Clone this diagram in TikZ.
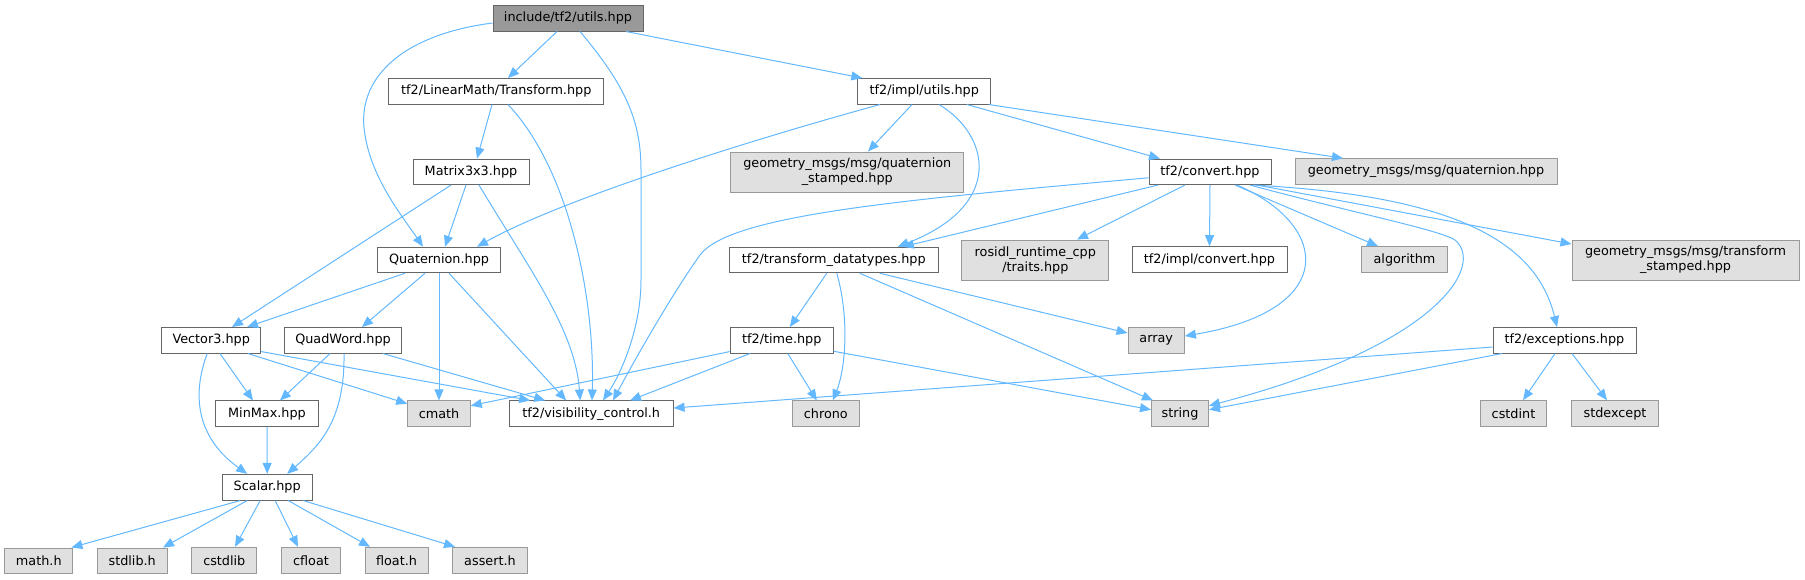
\documentclass[tikz,border=0pt]{standalone}
\usepackage{fontspec}
\setmainfont{DejaVu Sans}
\usetikzlibrary{arrows.meta}
\definecolor{edgec}{HTML}{63B8FF}
\definecolor{grayfill}{HTML}{E0E0E0}
\definecolor{grayborder}{HTML}{999999}
\definecolor{darkborder}{HTML}{666666}
\definecolor{rootfill}{HTML}{999999}
\begin{document}
\begin{tikzpicture}[x=1pt,y=-1pt,
  basebox/.style={line width=1pt, inner sep=0pt, minimum height=25.5pt, align=center,
     font=\fontsize{12.8}{15}\selectfont},
  wbox/.style={basebox, draw=darkborder, fill=white},
  gbox/.style={basebox, draw=grayborder, fill=grayfill},
  rbox/.style={basebox, draw=darkborder, fill=rootfill},
  edge/.style={draw=edgec, line width=1pt, -{Triangle[length=11pt,width=9pt]}}]
\useasboundingbox (0,0) rectangle (1805,579);
% nodes
\node[rbox, minimum width=150pt, minimum height=26pt] (root) at (568,18) {include/tf2/utils.hpp};
\node[wbox, minimum width=215pt] (trf) at (496.3,91.3) {tf2/LinearMath/Transform.hpp};
\node[wbox, minimum width=116pt] (mat) at (471,171.8) {Matrix3x3.hpp};
\node[wbox, minimum width=133pt] (implu) at (924.3,91.3) {tf2/impl/utils.hpp};
\node[gbox, minimum width=233pt, minimum height=40pt] (qst) at (847.3,172) {geometry\_msgs/msg/quaternion\\\_stamped.hpp};
\node[wbox, minimum width=122pt] (conv) at (1210,171.8) {tf2/convert.hpp};
\node[gbox, minimum width=262pt] (gq) at (1426,171.5) {geometry\_msgs/msg/quaternion.hpp};
\node[wbox, minimum width=123pt] (quat) at (439,260) {Quaternion.hpp};
\node[wbox, minimum width=209pt] (tdt) at (833.8,260) {tf2/transform\_datatypes.hpp};
\node[gbox, minimum width=147pt, minimum height=40pt] (ros) at (1035.3,260) {rosidl\_runtime\_cpp\\/traits.hpp};
\node[wbox, minimum width=155pt, minimum height=26pt] (iconv) at (1209.5,259.7) {tf2/impl/convert.hpp};
\node[gbox, minimum width=86pt, minimum height=26pt] (alg) at (1404.5,259.7) {algorithm};
\node[gbox, minimum width=227pt, minimum height=40pt] (tst) at (1685.5,260) {geometry\_msgs/msg/transform\\\_stamped.hpp};
\node[wbox, minimum width=99pt] (vec) at (211.2,340.3) {Vector3.hpp};
\node[wbox, minimum width=117.4pt] (qw) at (343,340.3) {QuadWord.hpp};
\node[wbox, minimum width=103pt] (time) at (781.8,340.3) {tf2/time.hpp};
\node[gbox, minimum width=56.3pt] (arr) at (1156.2,340.3) {array};
\node[wbox, minimum width=143pt] (exc) at (1564.5,340.3) {tf2/exceptions.hpp};
\node[wbox, minimum width=103.4pt] (mm) at (267,413.7) {MinMax.hpp};
\node[gbox, minimum width=62.6pt] (cmath) at (439,413.7) {cmath};
\node[wbox, minimum width=163.7pt] (vis) at (591.2,413.7) {tf2/visibility\_control.h};
\node[gbox, minimum width=67pt] (chrono) at (825.8,413.7) {chrono};
\node[gbox, minimum width=57pt] (string) at (1180,413.7) {string};
\node[gbox, minimum width=66.7pt, minimum height=26pt] (cstdint) at (1513.5,413.7) {cstdint};
\node[gbox, minimum width=86.7pt, minimum height=26pt] (stdexc) at (1615,413.7) {stdexcept};
\node[wbox, minimum width=89.7pt, minimum height=25.7pt] (scalar) at (267.2,487.2) {Scalar.hpp};
\node[gbox, minimum width=68.3pt, minimum height=25pt] (mathh) at (38.8,560.5) {math.h};
\node[gbox, minimum width=70.3pt, minimum height=25pt] (stdlibh) at (132.2,560.5) {stdlib.h};
\node[gbox, minimum width=65.3pt, minimum height=26pt] (cstdlib) at (224.3,560.3) {cstdlib};
\node[gbox, minimum width=58.7pt, minimum height=26pt] (cfloat) at (311,560.3) {cfloat};
\node[gbox, minimum width=63pt, minimum height=26pt] (floath) at (396.5,560.3) {float.h};
\node[gbox, minimum width=74.7pt, minimum height=26pt] (asserth) at (490,560.3) {assert.h};
% edges from root
\draw[edge] ([xshift=-11pt]root.south) -- ([xshift=11.7pt]trf.north);
\draw[edge] ([yshift=-5pt]root.west) .. controls (400,35) and (355,80) .. (365,135) .. controls (372,180) and (405,220) .. ([xshift=-16pt]quat.north);
\draw[edge] ([xshift=12pt]root.south) .. controls (625,85) and (641,120) .. (641,170) -- (641,280) .. controls (641,330) and (620,375) .. ([xshift=11.8pt]vis.north);
\draw[edge] ([xshift=58pt]root.south) -- ([xshift=-62pt]implu.north);
% Transform
\draw[edge] ([xshift=-4.3pt]trf.south) -- ([xshift=6pt]mat.north);
\draw[edge] ([xshift=11.7pt]trf.south) .. controls (570,170) and (595,300) .. ([xshift=0.8pt]vis.north);
% Matrix3x3
\draw[edge] ([xshift=-20pt]mat.south) -- ([xshift=20.8pt]vec.north);
\draw[edge] ([xshift=-5pt]mat.south) -- ([xshift=6pt]quat.north);
\draw[edge] ([xshift=8pt]mat.south) .. controls (530,270) and (575,330) .. ([xshift=-11pt]vis.north);
% impl/utils
\draw[edge] ([xshift=-44.3pt]implu.south) .. controls (750,140) and (560,200) .. ([xshift=38pt]quat.north);
\draw[edge] ([xshift=-12.3pt]implu.south) -- ([xshift=20.7pt]qst.north);
\draw[edge] ([xshift=14.7pt]implu.south) .. controls (990,135) and (1005,205) .. ([xshift=64pt]tdt.north);
\draw[edge] ([xshift=42.7pt]implu.south) -- ([xshift=-50pt]conv.north);
\draw[edge] ([xshift=64.7pt]implu.south) -- ([xshift=-83pt]gq.north);
% convert
\draw[edge] ([yshift=-6pt]conv.west) .. controls (900,200) and (730,215) .. (700,255) .. controls (675,290) and (640,350) .. ([xshift=21.8pt]vis.north);
\draw[edge] ([xshift=-52pt]conv.south) -- ([xshift=69pt]tdt.north);
\draw[edge] ([xshift=-25pt]conv.south) -- ([xshift=41.7pt]ros.north);
\draw[edge] (conv.south) -- (iconv.north);
\draw[edge] ([xshift=27pt]conv.south) .. controls (1330,225) and (1340,310) .. ([yshift=4.3pt]arr.east);
\draw[edge] ([xshift=25pt]conv.south) -- ([xshift=-26.5pt]alg.north);
\draw[edge] ([xshift=40pt]conv.south) .. controls (1350,212) and (1440,230) .. (1455,240) .. controls (1485,265) and (1440,345) .. ([yshift=8pt]string.east);
\draw[edge] ([xshift=43pt]conv.south) .. controls (1440,195) and (1535,235) .. ([xshift=-7.5pt]exc.north);
\draw[edge] ([xshift=47pt]conv.south) -- ([yshift=16pt]tst.west);
% Quaternion
\draw[edge] ([xshift=-34pt]quat.south) -- ([xshift=35.8pt]vec.north);
\draw[edge] ([xshift=-14pt]quat.south) -- ([xshift=19pt]qw.north);
\draw[edge] (quat.south) -- (cmath.north);
\draw[edge] ([xshift=10pt]quat.south) -- ([xshift=-25pt]vis.north);
% Vector3
\draw[edge] ([xshift=8.8pt]vec.south) -- ([xshift=-14pt]mm.north);
\draw[edge] ([xshift=-4pt]vec.south) .. controls (190,400) and (200,440) .. ([xshift=-20pt]scalar.north);
\draw[edge] ([xshift=36.8pt]vec.south) -- ([yshift=10pt]cmath.west);
\draw[edge] ([yshift=2pt]vec.south east) -- ([xshift=-61pt]vis.north);
% QuadWord
\draw[edge] ([xshift=-13pt]qw.south) -- ([xshift=13pt]mm.north);
\draw[edge] ([xshift=1pt]qw.south) .. controls (345,420) and (320,445) .. ([xshift=20pt]scalar.north);
\draw[edge] ([xshift=40pt]qw.south) -- ([xshift=-46pt]vis.north);
% MinMax
\draw[edge] (mm.south) -- (scalar.north);
% Scalar
\draw[edge] ([xshift=-27pt]scalar.south) -- ([xshift=-2pt]mathh.north east);
\draw[edge] ([xshift=-20pt]scalar.south) -- ([xshift=30.8pt]stdlibh.north);
\draw[edge] ([xshift=-7pt]scalar.south) -- ([xshift=10.7pt]cstdlib.north);
\draw[edge] ([xshift=8pt]scalar.south) -- ([xshift=-13pt]cfloat.north);
\draw[edge] ([xshift=21pt]scalar.south) -- ([xshift=-26.5pt]floath.north);
\draw[edge] ([xshift=36pt]scalar.south) -- ([xshift=-35pt]asserth.north);
% transform_datatypes
\draw[edge] ([xshift=-7pt]tdt.south) -- ([xshift=8pt]time.north);
\draw[edge] ([xshift=3pt]tdt.south) .. controls (850,320) and (845,370) .. ([xshift=7pt]chrono.north);
\draw[edge] ([xshift=46pt]tdt.south) -- ([yshift=7.3pt]arr.west);
\draw[edge] ([xshift=26pt]tdt.south) -- ([xshift=2pt]string.north west);
% time
\draw[edge] ([yshift=2pt]time.south west) -- ([yshift=8pt]cmath.east);
\draw[edge] ([xshift=-31.8pt]time.south) -- ([xshift=38.8pt]vis.north);
\draw[edge] ([xshift=6pt]time.south) -- ([xshift=-9pt]chrono.north);
\draw[edge] ([yshift=-11pt]time.east) -- ([yshift=4pt]string.west);
% exceptions
\draw[edge] ([yshift=-6.7pt]exc.west) -- ([yshift=5.7pt]vis.east);
\draw[edge] ([xshift=-62.5pt]exc.south) -- ([yshift=4pt]string.east);
\draw[edge] ([xshift=-9.5pt]exc.south) -- ([xshift=9.5pt]cstdint.north);
\draw[edge] ([xshift=7.5pt]exc.south) -- ([xshift=-8pt]stdexc.north);
\end{tikzpicture}
\end{document}
